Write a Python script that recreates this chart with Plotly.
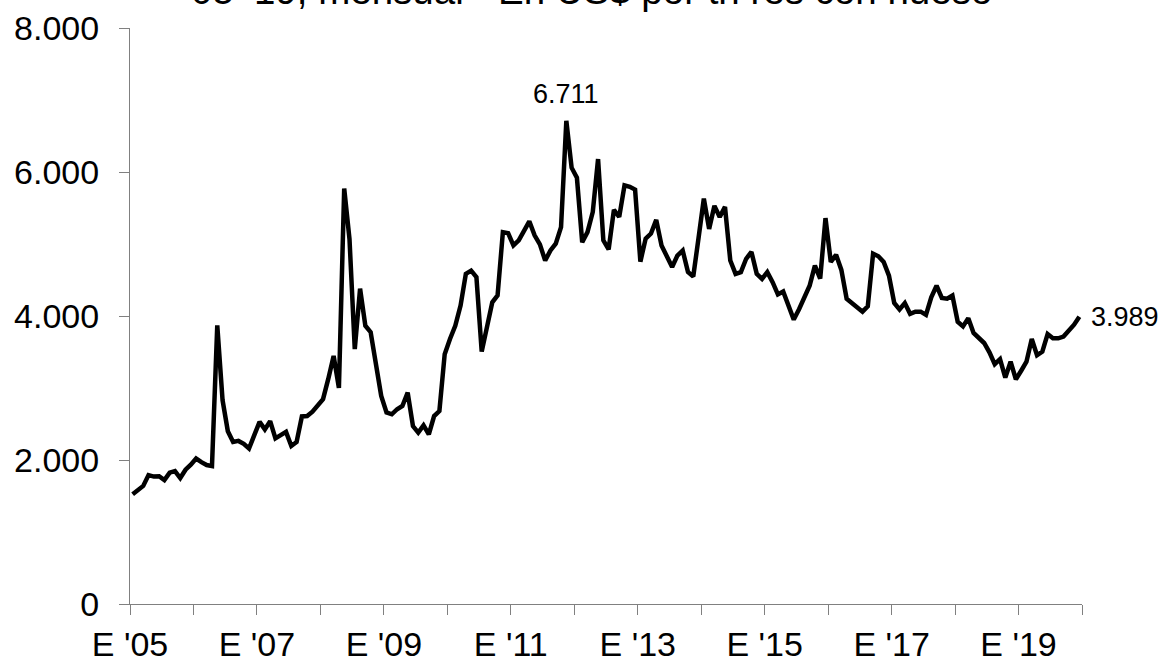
import plotly.graph_objects as go

# Monthly export price, Jan 2005 - Dec 2019 (US$ per tn res con hueso)
years = list(range(2005, 2020))
months = [f"{y}-{m:02d}" for y in years for m in range(1, 13)]

p2005 = [1525, 1580, 1640, 1790, 1770, 1775, 1720, 1825, 1845, 1750, 1865, 1935]
p2006 = [2020, 1970, 1930, 1915, 3870, 2830, 2400, 2250, 2265, 2225, 2160, 2345]
p2007 = [2530, 2425, 2540, 2300, 2345, 2390, 2195, 2250, 2605, 2610, 2670, 2765]
p2008 = [2845, 3130, 3445, 3000, 5770, 5070, 3540, 4380, 3865, 3775, 3355, 2890]
p2009 = [2660, 2635, 2705, 2750, 2935, 2470, 2380, 2480, 2355, 2610, 2680, 3470]
p2010 = [3680, 3865, 4145, 4585, 4630, 4540, 3505, 3865, 4190, 4285, 5165, 5150]
p2011 = [4980, 5050, 5180, 5315, 5120, 4995, 4770, 4910, 5005, 5235, 6711, 6060]
p2012 = [5920, 5025, 5165, 5445, 6180, 5050, 4925, 5475, 5375, 5815, 5795, 5755]
p2013 = [4755, 5075, 5145, 5335, 4980, 4830, 4680, 4840, 4910, 4610, 4550, 5085]
p2014 = [5630, 5210, 5530, 5375, 5515, 4770, 4585, 4610, 4795, 4890, 4585, 4515]
p2015 = [4610, 4470, 4300, 4340, 4145, 3950, 4095, 4250, 4420, 4700, 4520, 5360]
p2016 = [4750, 4850, 4640, 4240, 4180, 4120, 4060, 4135, 4865, 4830, 4750, 4560]
p2017 = [4180, 4090, 4180, 4030, 4060, 4060, 4015, 4260, 4420, 4250, 4240, 4285]
p2018 = [3920, 3855, 3970, 3765, 3690, 3625, 3495, 3330, 3400, 3145, 3365, 3120]
p2019 = [3240, 3365, 3680, 3455, 3505, 3750, 3690, 3690, 3715, 3790, 3880, 3989]

values = (p2005 + p2006 + p2007 + p2008 + p2009 + p2010 + p2011 + p2012 +
          p2013 + p2014 + p2015 + p2016 + p2017 + p2018 + p2019)

tick_labels = ["E '05", "", "E '07", "", "E '09", "", "E '11", "", "E '13", "",
               "E '15", "", "E '17", "", "E '19", ""]
title_text = "05-'19, mensual - En US$ por tn res con hueso"

FONT = "Arial, 'Liberation Sans', sans-serif"

x_idx = list(range(len(values)))
tick_pos = [i * 12 - 0.5 for i in range(len(tick_labels))]


def fmt(v):
    return f"{v:,.0f}".replace(",", ".")


fig = go.Figure()
fig.add_trace(go.Scatter(
    x=x_idx, y=values, mode="lines", text=months,
    line=dict(color="black", width=4.5), showlegend=False,
))

imax = values.index(max(values))
ilast = len(values) - 1

fig.add_annotation(x=imax, y=values[imax], text=fmt(values[imax]),
                   showarrow=False, yanchor="bottom", yshift=10,
                   font=dict(size=27, color="black", family=FONT))
fig.add_annotation(x=ilast, y=values[ilast], text=fmt(values[ilast]),
                   showarrow=False, xanchor="left", xshift=10,
                   font=dict(size=27, color="black", family=FONT))
fig.add_annotation(xref="paper", yref="paper", x=0.485, y=1.065,
                   text=title_text, showarrow=False, xanchor="center",
                   yanchor="middle",
                   font=dict(size=38.5, color="black", family=FONT))

fig.update_layout(
    template="none",
    width=1169, height=661,
    margin=dict(l=130, r=87, t=28, b=57, autoexpand=False),
    paper_bgcolor="white", plot_bgcolor="white",
    separators=",.",
    font=dict(family=FONT, color="black"),
    xaxis=dict(
        automargin=False,
        range=[-0.5, len(values) - 0.5], tickmode="array",
        tickvals=tick_pos, ticktext=tick_labels,
        showgrid=False, zeroline=False, showline=True,
        linecolor="#808080", linewidth=1,
        ticks="outside", ticklen=10, tickcolor="#808080", tickwidth=1,
        tickfont=dict(size=34, color="black", family=FONT),
    ),
    yaxis=dict(
        automargin=False,
        range=[0, 8000], dtick=2000, tickformat=",d",
        showgrid=False, zeroline=False, showline=True,
        linecolor="#808080", linewidth=1,
        ticks="outside", ticklen=10, tickcolor="#808080", tickwidth=1,
        tickfont=dict(size=34, color="black", family=FONT),
        ticklabelstandoff=13,
    ),
)

fig.write_html(
    "out.html",
    config={"displayModeBar": False},
    post_script="document.body.style.margin='0';document.body.style.overflow='hidden';",
)
